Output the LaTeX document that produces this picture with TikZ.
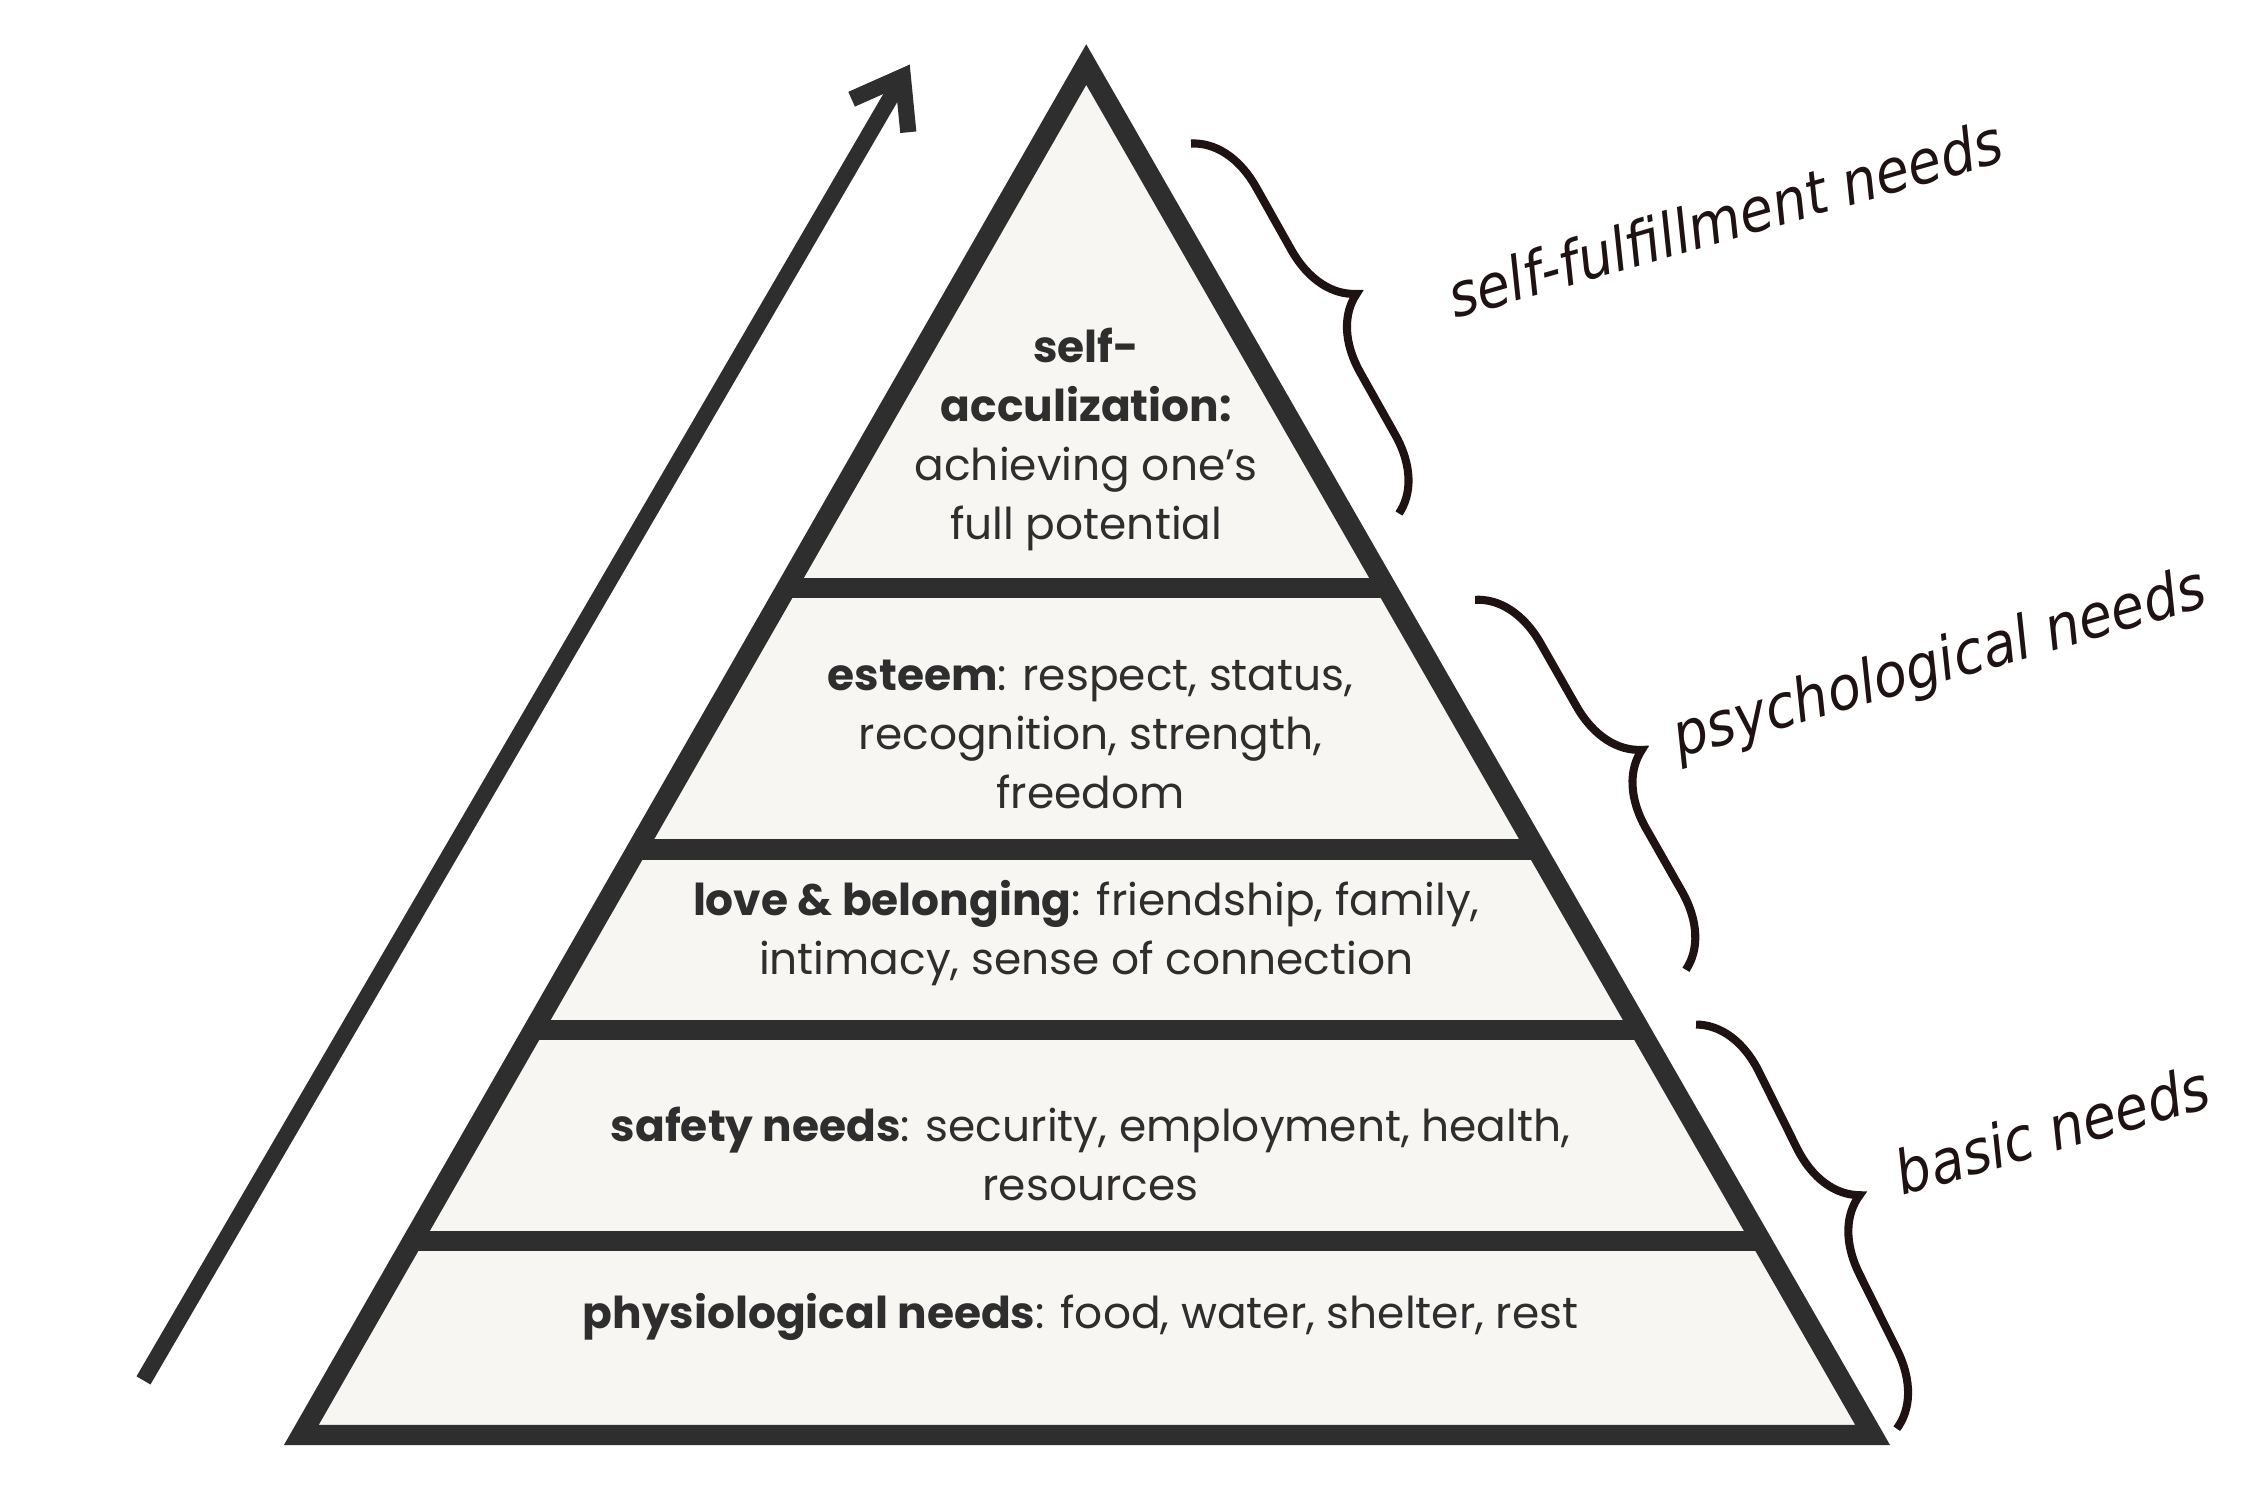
\documentclass[tikz,border=0pt]{standalone}
\usepackage{fontspec}
\setmainfont{Poppins}
\newfontfamily\hand{DejaVu Sans Condensed}
\usetikzlibrary{decorations.pathreplacing,arrows.meta}
\definecolor{ink}{HTML}{2E2E2E}
\definecolor{paper}{HTML}{F7F6F2}
\definecolor{brc}{HTML}{1E1212}
\begin{document}
\begin{tikzpicture}[x=0.01cm,y=-0.01cm,
  band/.style={line width=4pt,draw=ink},
  txt/.style={align=center,text=ink,font=\fontsize{8.7}{11.7}\selectfont,inner sep=0},
  brc/.style={draw=brc,line width=1.6pt,decorate,decoration={brace,amplitude=14pt}},
  lab/.style={text=brc,font=\hand\itshape\fontsize{12}{14}\selectfont,rotate=16,inner sep=0}]
\useasboundingbox (0,0) rectangle (1568,1045);
\coordinate (apex) at (757,45);
\coordinate (bl) at (210,1000);
\coordinate (br) at (1305,1000);
\fill[paper] (apex)--(bl)--(br)--cycle;
\foreach \y/\l/\r in {410/548/966,592/444/1070,718/371/1143,865/287/1227}
  \draw[band] (\l,\y)--(\r,\y);
\draw[line width=4pt,draw=ink,line join=miter,miter limit=10] (apex)--(bl)--(br)--cycle;
\coordinate (a0) at (100,962);
\coordinate (a1) at (634,45);
\draw[ink,line width=3.2pt,-{Straight Barb[length=9pt,width=13pt]}] (a0)--(a1);
\node[txt] (t1) at (757,306) {\textbf{self-}\\\textbf{acculization:}\\achieving one’s\\full potential};
\node[txt] (t2) at (760,512) {\textbf{esteem}: respect, status,\\recognition, strength,\\freedom};
\node[txt] (t3) at (757,650) {\textbf{love \& belonging}: friendship, family,\\intimacy, sense of connection};
\node[txt] (t4) at (760,804) {\textbf{safety needs}: security, employment, health,\\resources};
\node[txt] (t5) at (753,918) {\textbf{physiological needs}: food, water, shelter, rest};
\coordinate (b1a) at (830,100); \coordinate (b1b) at (975,358);
\coordinate (b2a) at (1028,418); \coordinate (b2b) at (1175,676);
\coordinate (b3a) at (1182,714); \coordinate (b3b) at (1322,996);
\draw[brc] (b1a)--(b1b);
\draw[brc] (b2a)--(b2b);
\draw[brc] (b3a)--(b3b);
\node[lab] (l1) at (1202,152) {self-fulfillment needs};
\node[lab] (l2) at (1352,464) {psychological needs};
\node[lab] (l3) at (1430,787) {basic needs};
\end{tikzpicture}
\end{document}
